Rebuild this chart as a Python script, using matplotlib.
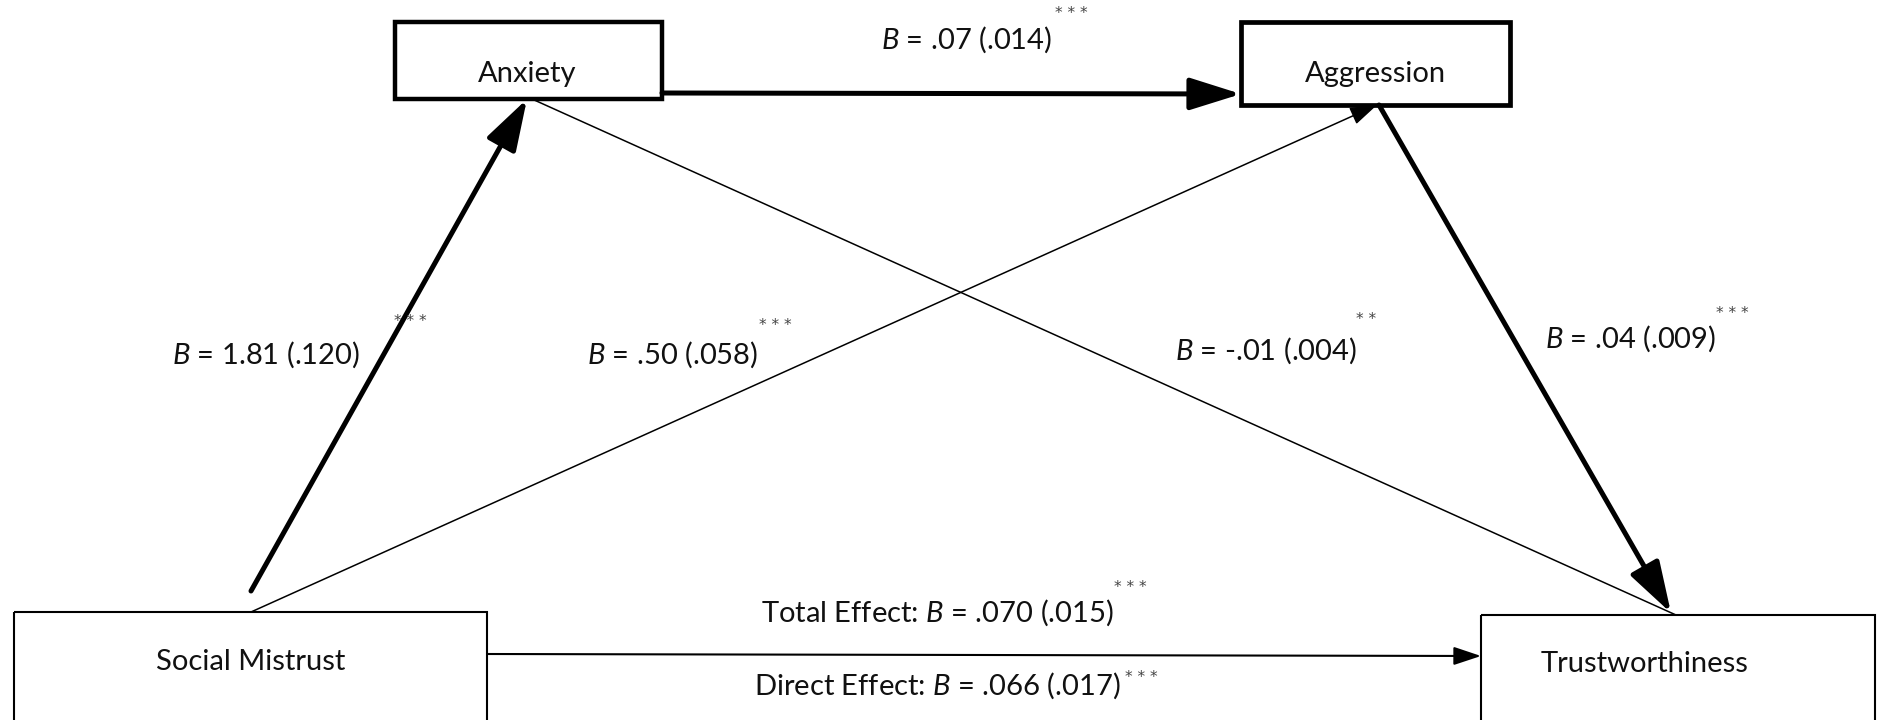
import matplotlib.pyplot as plt
from matplotlib.patches import Rectangle, FancyArrowPatch

plt.rcParams['font.family'] = ['Lato', 'DejaVu Sans']
plt.rcParams['mathtext.fontset'] = 'custom'
plt.rcParams['mathtext.rm'] = 'Lato'
plt.rcParams['mathtext.it'] = 'Lato:italic'

# variables in the model
nodes = ['Social Mistrust', 'Anxiety', 'Aggression', 'Trustworthiness']

# paths: (from, to, B, SE, stars)
path_from = ['Social Mistrust', 'Social Mistrust', 'Anxiety', 'Anxiety', 'Aggression']
path_to = ['Anxiety', 'Aggression', 'Aggression', 'Trustworthiness', 'Trustworthiness']
path_b = ['1.81', '.50', '.07', '-.01', '.04']
path_se = ['.120', '.058', '.014', '.004', '.009']
path_sig = ['***', '***', '***', '**', '***']

total_b, total_se, total_sig = '.070', '.015', '***'
direct_b, direct_se, direct_sig = '.066', '.017', '***'

# layout (pixel coords, y down)
boxes = {
    'Social Mistrust': (14, 612, 473, 120, 1.5),
    'Anxiety': (395, 22, 267, 77, 3.2),
    'Aggression': (1241, 22, 269, 83, 3.4),
    'Trustworthiness': (1481, 615, 394, 120, 1.5),
}
text_pos = {
    'Social Mistrust': (251, 662),
    'Anxiety': (527, 74),
    'Aggression': (1375, 74),
    'Trustworthiness': (1645, 664),
}
arrows = [
    # start, end, lw, head
    ((251, 591), (527, 99), 3.6, 'big'),
    ((251, 612), (1377, 105), 1.1, 'small'),
    ((662, 93), (1241, 94), 3.6, 'big'),
    ((532, 99), (1676, 615), 1.1, 'none'),
    ((1379, 105), (1671, 613), 3.6, 'big'),
]
label_pos = [(266, 355), (673, 355), (967, 40), (1266, 351), (1631, 339)]
star_pos = [(410, 322), (775, 325), (1071, 13), (1366, 320), (1732, 313)]

fig = plt.figure(figsize=(18.77, 7.2), dpi=100)
ax = fig.add_axes([0, 0, 1, 1])
ax.set_xlim(0, 1877)
ax.set_ylim(720, 0)
ax.axis('off')

for name in nodes:
    x, y, w, h, lw = boxes[name]
    ax.add_patch(Rectangle((x, y), w, h, fill=False, edgecolor='black', lw=lw, zorder=3))
    tx, ty = text_pos[name]
    ax.text(tx, ty, name, ha='center', va='center', fontsize=21, color='#111111', zorder=4)

for (p0, p1, lw, head) in arrows:
    if head == 'big':
        style = '-|>,head_length=1.75,head_width=0.55'
        ms = 18
    elif head == 'small':
        style = '-|>,head_length=1.2,head_width=0.4'
        ms = 14
    else:
        style = '-'
        ms = 10
    ax.add_patch(FancyArrowPatch(p0, p1, arrowstyle=style, mutation_scale=ms,
                                 lw=lw, color='black', shrinkA=0, shrinkB=0, zorder=2))

# direct effect arrow
ax.add_patch(FancyArrowPatch((487, 654), (1481, 656), arrowstyle='-|>,head_length=1.2,head_width=0.4',
                             mutation_scale=14, lw=1.5, color='black', shrinkA=0, shrinkB=0, zorder=2))

star_kw = dict(ha='center', va='center', fontsize=11, color='#444444', family='DejaVu Sans')


def stars(s):
    return ' '.join(s)


for i in range(len(path_b)):
    lx, ly = label_pos[i]
    ax.text(lx, ly, '$B$ = %s (%s)' % (path_b[i], path_se[i]), ha='center', va='center',
            fontsize=21, color='#111111')
    sx, sy = star_pos[i]
    ax.text(sx, sy, stars(path_sig[i]), **star_kw)

ax.text(937, 613, 'Total Effect: $B$ = %s (%s)' % (total_b, total_se), ha='center', va='center',
        fontsize=21, color='#111111')
ax.text(1130, 587, stars(total_sig), **star_kw)
ax.text(937, 686, 'Direct Effect: $B$ = %s (%s)' % (direct_b, direct_se), ha='center', va='center',
        fontsize=21, color='#111111')
ax.text(1141, 678, stars(direct_sig), **star_kw)

fig.savefig('out.png', dpi=100)
